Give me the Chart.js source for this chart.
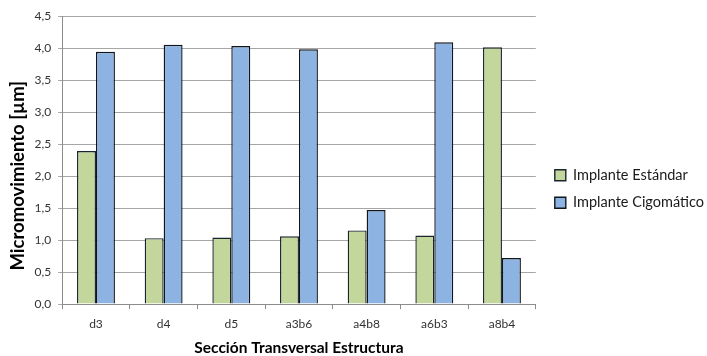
<!DOCTYPE html>
<html>
<head>
<meta charset="utf-8">
<script src="https://cdn.jsdelivr.net/npm/chart.js@4/dist/chart.umd.min.js"></script>
<style>
  html, body { margin: 0; padding: 0; background: #fff; }
  #wrap { width: 707px; height: 356px; }
</style>
</head>
<body>
<div id="wrap"><canvas id="c" width="707" height="356"></canvas></div>
<script>
const categories = ['d3', 'd4', 'd5', 'a3b6', 'a4b8', 'a6b3', 'a8b4'];
const estandar = [2.39, 1.03, 1.04, 1.06, 1.15, 1.07, 4.01];
const cigomatico = [3.94, 4.05, 4.03, 3.98, 1.47, 4.09, 0.72];
const seriesNames = ['Implante Estándar', 'Implante Cigomático'];
const yTicks = [0, 0.5, 1, 1.5, 2, 2.5, 3, 3.5, 4, 4.5];

const FONT = 'Lato, "Open Sans", sans-serif';

// leaves a little more room between the plot and the legend
const legendGap = {
  id: 'legendGap',
  afterLayout(chart) {
    if (chart.legend) { chart.legend.left += 6; chart.legend.right += 6; }
  }
};

new Chart(document.getElementById('c'), {
  type: 'bar',
  data: {
    labels: categories,
    datasets: [
      { label: seriesNames[0], data: estandar, backgroundColor: '#c3d69b', borderColor: '#1a242c', borderWidth: 1.4 },
      { label: seriesNames[1], data: cigomatico, backgroundColor: '#8db3e2', borderColor: '#10161c', borderWidth: 1.4 }
    ]
  },
  plugins: [legendGap],
  options: {
    responsive: false,
    animation: false,
    datasets: { bar: { categoryPercentage: 0.56, barPercentage: 1.0 } },
    layout: { padding: { top: 16, right: -1, left: 4, bottom: 0 } },
    plugins: {
      tooltip: { enabled: false },
      legend: {
        position: 'right',
        title: { display: true, text: '', font: { size: 4, lineHeight: 1 }, padding: 1 },
        labels: {
          boxWidth: 11, boxHeight: 11, padding: 13,
          color: '#1a1a1a',
          font: { family: FONT, size: 14.5 }
        }
      }
    },
    scales: {
      x: {
        grid: { display: true, drawOnChartArea: false, drawTicks: true, tickLength: 5, color: '#8c8c8c' },
        border: { color: '#8c8c8c' },
        ticks: { color: '#333', font: { family: FONT, size: 12 }, padding: 8 },
        title: { display: true, text: 'Sección Transversal Estructura', color: '#000', font: { family: FONT, size: 15.5, weight: 'bold', lineHeight: 1 }, padding: { top: 1, bottom: 0 } }
      },
      y: {
        min: 0, max: 4.5,
        afterBuildTicks: (axis) => { axis.ticks = yTicks.map(v => ({ value: v })); },
        grid: { color: '#a6a6a6', tickLength: 4 },
        border: { color: '#8c8c8c' },
        ticks: {
          color: '#333', font: { family: FONT, size: 12 }, padding: 7,
          callback: (v) => Number(v).toFixed(1).replace('.', ',')
        },
        title: { display: true, text: 'Micromovimiento [µm]\u00a0\u00a0\u00a0\u00a0\u00a0\u00a0\u00a0', color: '#000', font: { family: FONT, size: 18.5, weight: 'bold', lineHeight: 1 }, padding: { top: 5, bottom: 0 } }
      }
    }
  }
});
</script>
</body>
</html>
